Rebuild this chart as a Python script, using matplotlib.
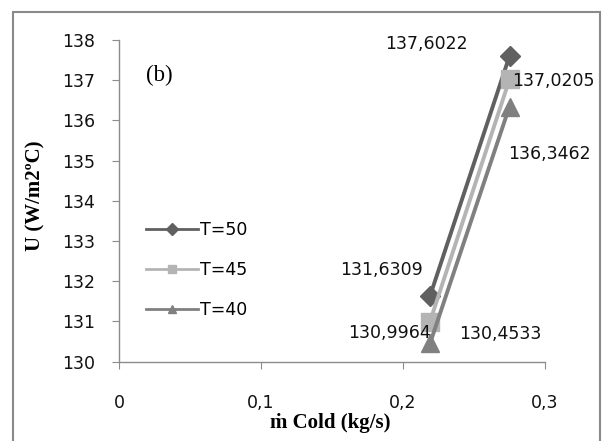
import matplotlib
matplotlib.use("Agg")
import matplotlib.pyplot as plt
from matplotlib.lines import Line2D
from matplotlib.patches import Rectangle

# mass flow of the cold stream (kg/s) and overall coefficient U for each T
m_cold = [0.219, 0.275]
series = ["T=50", "T=45", "T=40"]
u_t50 = [131.6309, 137.6022]
u_t45 = [130.9964, 137.0205]
u_t40 = [130.4533, 136.3462]
x_ticks = [0, 0.1, 0.2, 0.3]
x_tick_labels = ["0", "0,1", "0,2", "0,3"]
y_ticks = list(range(130, 139))

colors = ["#606060", "#b4b4b4", "#808080"]
markers = ["D", "s", "^"]
msizes = [10.5, 13, 13]

# label offsets in pixels from each point: (dx, dy, ha, va)
label_offsets = {
    "T=50": [(-48, 26, "center", "center"), (-83, 12, "center", "center")],
    "T=45": [(-40, -11, "center", "center"), (3, -2, "left", "center")],
    "T=40": [(70, 9, "center", "center"), (40, -47, "center", "center")],
}

tick_font = "DejaVu Sans"
serif = ["Liberation Serif", "DejaVu Serif"]

fig = plt.figure(figsize=(6.04, 4.41), dpi=100)
ax = fig.add_axes([119 / 604, 1 - 361.7 / 441, (545 - 119) / 604, (361.7 - 40) / 441])

for name, vals, c, mk, ms in zip(series, [u_t50, u_t45, u_t40], colors, markers, msizes):
    ax.plot(m_cold, vals, color=c, lw=2.8, marker=mk, markersize=ms,
            markeredgecolor=c, markerfacecolor=c, solid_capstyle="butt")
    for xv, yv, (dx, dy, ha, va) in zip(m_cold, vals, label_offsets[name]):
        ax.annotate(("%.4f" % yv).replace(".", ","), (xv, yv),
                    xytext=(dx, dy), textcoords="offset pixels",
                    ha=ha, va=va, fontsize=12.5, family=tick_font, color="#111111")

ax.set_xlim(0, 0.3)
ax.set_ylim(130, 138)
ax.set_xticks(x_ticks)
ax.set_xticklabels(x_tick_labels)
ax.set_yticks(y_ticks)

for side in ["top", "right"]:
    ax.spines[side].set_visible(False)
for side in ["left", "bottom"]:
    ax.spines[side].set_color("#8c8c8c")
    ax.spines[side].set_linewidth(1)

ax.tick_params(axis="both", direction="out", length=5, color="#8c8c8c",
               labelsize=12.5, labelcolor="#111111")
ax.tick_params(axis="y", pad=12)
ax.tick_params(axis="x", pad=18)
for lab in ax.get_xticklabels() + ax.get_yticklabels():
    lab.set_family(tick_font)

# legend with smaller markers like the original
handles = [Line2D([], [], color=c, lw=2, marker=mk, markersize=6,
                  markerfacecolor=c, markeredgecolor=c)
           for c, mk in zip(colors, markers)]
fig.legend(handles, series, loc="center left",
           bbox_to_anchor=(146 / 604, 1 - 270 / 441), frameon=False,
           borderpad=0, borderaxespad=0, handlelength=3.0, handletextpad=0.1,
           labelspacing=1.25, prop={"family": tick_font, "size": 12.5})

fig.text(159 / 604, 1 - 75 / 441, "(b)", ha="center", va="center",
         fontsize=16.5, family=serif)
fig.text(35 / 604, 1 - 196 / 441, "U (W/m2ºC)", rotation=90, ha="center",
         va="center", fontsize=15, fontweight="bold", family=serif)
fig.text(330 / 604, 1 - 423 / 441, "ṁ Cold (kg/s)", ha="center", va="center",
         fontsize=15, fontweight="bold", family=serif)

# outer chart border
fig.patches.append(Rectangle((13 / 604, -0.05), (600 - 13) / 604, 1 - 12 / 441 + 0.05,
                             transform=fig.transFigure, fill=False,
                             edgecolor="#8a8a8a", lw=1.5))

fig.savefig("out.png", dpi=100)
